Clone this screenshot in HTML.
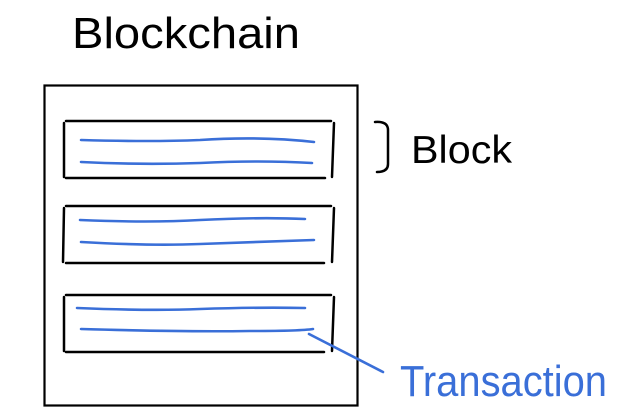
<!DOCTYPE html>
<html><head><style>html,body{margin:0;padding:0;background:#fff}svg{display:block}</style></head>
<body>
<svg width="622" height="419" viewBox="0 0 622 419" xmlns="http://www.w3.org/2000/svg">
<g fill="none" stroke="#000" stroke-width="2.5" stroke-linecap="round">
<rect x="44.5" y="85.5" width="313" height="320" stroke-width="2.2"/>
<path d="M66 121 H331 M66 178 H325 M64 123 L64 177 M334 123 L332 177"/>
<path d="M66 206 H331 M66 263 H324 M64 208 L63 262 M334 208 L332 262"/>
<path d="M66 295 H331 M66 352 H324 M64 297 L64 351 M334 297 L332 351"/>
<path d="M375 122 Q388 121 388 130 L388 164 Q388 172 377 172"/>
</g>
<g fill="none" stroke="#3a6fd8" stroke-width="2.6" stroke-linecap="round">
<path d="M81 140 Q150 142 200 140 Q260 136 314 142"/>
<path d="M81 162 Q140 165 200 163 Q260 160 312 163"/>
<path d="M80 220 Q150 223 200 220 Q260 217 305 219"/>
<path d="M81 242 Q150 246 200 244 Q260 242 314 240"/>
<path d="M77 308 Q150 311 200 309 Q260 307 305 308"/>
<path d="M81 329 Q180 332 250 331 Q300 331 313 329"/>
<path d="M309 334 L383 372"/>
</g>
<text x="72" y="48" font-family="Liberation Sans, sans-serif" font-size="44" textLength="228" lengthAdjust="spacingAndGlyphs" fill="#000">Blockchain</text>
<text x="411" y="163" font-family="Liberation Sans, sans-serif" font-size="39" textLength="101" lengthAdjust="spacingAndGlyphs" fill="#000">Block</text>
<text x="400" y="396" font-family="Liberation Sans, sans-serif" font-size="44" textLength="207" lengthAdjust="spacingAndGlyphs" fill="#3a6fd8">Transaction</text>
</svg>
</body></html>
